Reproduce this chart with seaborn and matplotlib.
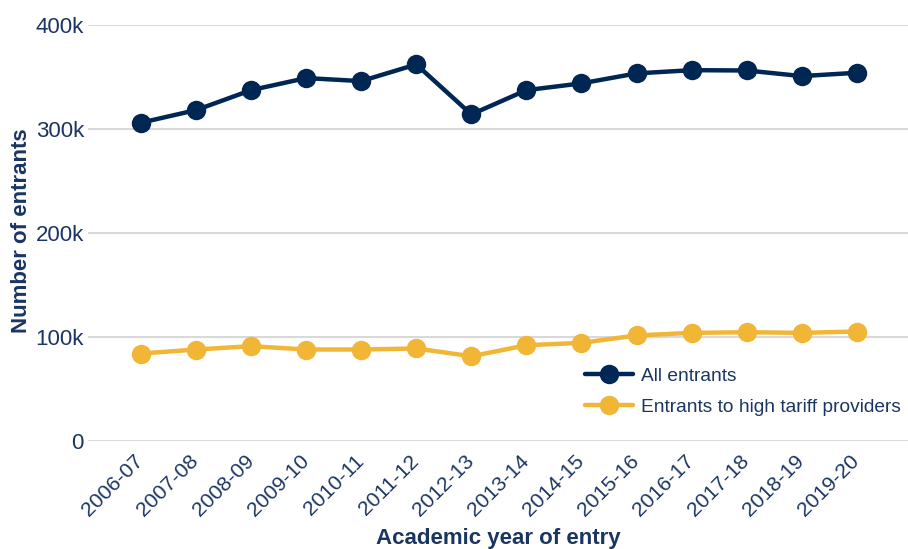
import matplotlib
matplotlib.use("Agg")
import matplotlib.pyplot as plt
import matplotlib.transforms as mtransforms
import seaborn as sns
import pandas as pd

years = ["2006-07", "2007-08", "2008-09", "2009-10", "2010-11", "2011-12", "2012-13",
         "2013-14", "2014-15", "2015-16", "2016-17", "2017-18", "2018-19", "2019-20"]
all_entrants = [305800, 317900, 337100, 348700, 345800, 361800, 313800,
                337100, 343600, 353200, 356300, 356000, 350600, 353800]
high_tariff = [83900, 87800, 91000, 87800, 87800, 88800, 81300,
               91900, 94200, 101300, 103800, 104400, 103800, 105100]
series_names = ["All entrants", "Entrants to high tariff providers"]
y_ticks = [0, 100000, 200000, 300000, 400000]
y_tick_labels = ["0", "100k", "200k", "300k", "400k"]

NAVY = "#002654"
GOLD = "#F2B636"
TEXT = "#1B3562"

sns.set_theme(style="white")
plt.rcParams["font.family"] = ["Liberation Sans", "DejaVu Sans"]

df = pd.DataFrame({
    "year": years * 2,
    "idx": list(range(len(years))) * 2,
    "value": all_entrants + high_tariff,
    "series": [series_names[0]] * len(years) + [series_names[1]] * len(years),
})

fig = plt.figure(figsize=(9.08, 5.49), dpi=100)
ax = fig.add_axes([0.097, 0.197, 0.903, 0.758])

sns.lineplot(data=df, x="idx", y="value", hue="series", hue_order=series_names,
             palette=[NAVY, GOLD], marker="o", markersize=14, linewidth=3.2,
             markeredgewidth=0, ax=ax, zorder=3)

ax.set_xlim(-0.96, 13.93)
ax.set_ylim(0, 400000)
ax.set_yticks(y_ticks)
ax.set_yticklabels(y_tick_labels)
ax.set_xticks(range(len(years)))
ax.set_xticklabels(years, rotation=45, ha="right", rotation_mode="anchor")
ax.tick_params(axis="y", length=0, labelsize=16, labelcolor=TEXT, pad=3)
ax.tick_params(axis="x", length=0, labelsize=15.2, labelcolor=TEXT, pad=7)
offset = mtransforms.ScaledTranslation(-7 / 100, -1 / 100, fig.dpi_scale_trans)
for lab in ax.get_xticklabels():
    lab.set_transform(lab.get_transform() + offset)
ax.grid(axis="y", color="#d9d9d9", linewidth=1.5, zorder=0)
ax.set_axisbelow(True)
for s in ax.spines.values():
    s.set_visible(False)

ax.set_xlabel("Academic year of entry", fontsize=16, fontweight="bold", color=TEXT)
ax.xaxis.set_label_coords(0.5, -0.21)
ax.set_ylabel("Number of entrants", fontsize=16, fontweight="bold", color=TEXT)
ax.yaxis.set_label_coords(-0.069, 0.505)

leg = ax.legend(loc="upper left", bbox_to_anchor=(0.597, 0.195), frameon=False,
                fontsize=13.8, handlelength=2.5, handletextpad=0.42, labelspacing=0.72,
                borderaxespad=0)
for t in leg.get_texts():
    t.set_color(TEXT)

fig.savefig("out.png", dpi=100)
